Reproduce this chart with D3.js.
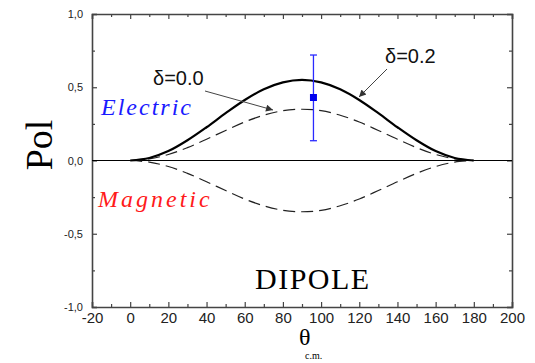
<!DOCTYPE html>
<html><head><meta charset="utf-8">
<script src="https://cdn.jsdelivr.net/npm/d3@7"></script>
<style>body{margin:0;background:#fff}svg{display:block}</style>
</head><body>
<script>
// Data
const theta = [0,10,20,30,40,50,60,70,80,90,100,110,120,130,140,150,160,170,180];
const polDelta02 = [0,0.017,0.064,0.138,0.227,0.323,0.413,0.486,0.533,0.55,0.533,0.486,0.413,0.323,0.227,0.138,0.064,0.017,0];
const polElectric = [0,0.011,0.041,0.088,0.145,0.205,0.263,0.309,0.340,0.35,0.340,0.309,0.263,0.205,0.145,0.088,0.041,0.011,0];
const polMagnetic = [0,-0.011,-0.041,-0.088,-0.145,-0.205,-0.263,-0.309,-0.340,-0.35,-0.340,-0.309,-0.263,-0.205,-0.145,-0.088,-0.041,-0.011,0];
const expPoint = [{theta:96, pol:0.43, lo:0.135, hi:0.72}];
const xTicks = [-20,0,20,40,60,80,100,120,140,160,180,200];
const xMinor = [-10,10,30,50,70,90,110,130,150,170,190];
const yTicks = [-1,-0.5,0,0.5,1];
const yMinor = [-0.75,-0.25,0.25,0.75];

const SERIF="Liberation Serif";
const SANS="Liberation Sans";

const W=535,H=363;
const svg=d3.select("body").append("svg").attr("width",W).attr("height",H);
const x=d3.scaleLinear().domain([-20,200]).range([92,512]);
const y=d3.scaleLinear().domain([-1,1]).range([307,14]);
const axisColor="#444";

const fmtY=d=>d3.format(".1f")(d).replace(".",",").replace("−","-");
const fmtX=d=>String(d);

function styleAxis(g){g.select(".domain").attr("stroke",axisColor).attr("stroke-width",1.6);
 g.selectAll(".tick line").attr("stroke",axisColor).attr("stroke-width",1.2);}

// bottom
svg.append("g").attr("transform",`translate(0,${y(-1)})`)
 .call(d3.axisBottom(x).tickValues(xTicks).tickSize(-5).tickPadding(5).tickFormat(fmtX))
 .call(styleAxis).call(g=>g.selectAll("text").attr("font-family",SANS).attr("font-size",15).attr("fill","#222"));
svg.append("g").attr("transform",`translate(0,${y(-1)})`)
 .call(d3.axisBottom(x).tickValues(xMinor).tickSize(-3).tickFormat(""))
 .call(styleAxis).call(g=>g.select(".domain").remove());
// top
svg.append("g").attr("transform",`translate(0,${y(1)})`)
 .call(d3.axisTop(x).tickValues(xTicks).tickSize(-5).tickFormat(""))
 .call(styleAxis);
svg.append("g").attr("transform",`translate(0,${y(1)})`)
 .call(d3.axisTop(x).tickValues(xMinor).tickSize(-3).tickFormat(""))
 .call(styleAxis).call(g=>g.select(".domain").remove());
// left
svg.append("g").attr("transform",`translate(${x(-20)},0)`)
 .call(d3.axisLeft(y).tickValues(yTicks).tickSize(-5).tickPadding(9).tickFormat(fmtY))
 .call(styleAxis).call(g=>g.selectAll("text").attr("font-family",SANS).attr("font-size",11).attr("fill","#222"));
svg.append("g").attr("transform",`translate(${x(-20)},0)`)
 .call(d3.axisLeft(y).tickValues(yMinor).tickSize(-3).tickFormat(""))
 .call(styleAxis).call(g=>g.select(".domain").remove());
// right
svg.append("g").attr("transform",`translate(${x(200)},0)`)
 .call(d3.axisRight(y).tickValues(yTicks).tickSize(-5).tickFormat(""))
 .call(styleAxis);
svg.append("g").attr("transform",`translate(${x(200)},0)`)
 .call(d3.axisRight(y).tickValues(yMinor).tickSize(-3).tickFormat(""))
 .call(styleAxis).call(g=>g.select(".domain").remove());

// zero line
svg.append("line").attr("x1",x(-20)).attr("x2",x(200)).attr("y1",y(0)).attr("y2",y(0))
 .attr("stroke","#000").attr("stroke-width",1.2);

const line=vals=>d3.line().x((d,i)=>x(theta[i])).y(d=>y(d)).curve(d3.curveCatmullRom)(vals);
svg.append("path").attr("d",line(polElectric)).attr("fill","none").attr("stroke","#222").attr("stroke-width",1.2).attr("stroke-dasharray","12,6");
svg.append("path").attr("d",line(polMagnetic)).attr("fill","none").attr("stroke","#222").attr("stroke-width",1.2).attr("stroke-dasharray","12,6");
svg.append("path").attr("d",line(polDelta02)).attr("fill","none").attr("stroke","#000").attr("stroke-width",2.2);

// experimental point
const blue="#2a2aff";
expPoint.forEach(p=>{
 svg.append("line").attr("x1",x(p.theta)).attr("x2",x(p.theta)).attr("y1",y(p.lo)).attr("y2",y(p.hi)).attr("stroke",blue).attr("stroke-width",1.3);
 [p.lo,p.hi].forEach(v=>svg.append("line").attr("x1",x(p.theta)-3.5).attr("x2",x(p.theta)+3.5).attr("y1",y(v)).attr("y2",y(v)).attr("stroke",blue).attr("stroke-width",1.3));
 svg.append("rect").attr("x",x(p.theta)-3.5).attr("y",y(p.pol)-3.5).attr("width",7).attr("height",7).attr("fill","#0000ee");
});

// arrows
const defs=svg.append("defs");
defs.append("marker").attr("id","ah").attr("viewBox","0 0 10 10").attr("refX",10).attr("refY",5)
 .attr("markerWidth",9).attr("markerHeight",7).attr("markerUnits","userSpaceOnUse").attr("orient","auto")
 .append("path").attr("d","M0,0L10,5L0,10z").attr("fill","#333");
svg.append("line").attr("x1",205).attr("y1",91).attr("x2",273).attr("y2",110).attr("stroke","#444").attr("stroke-width",1).attr("marker-end","url(#ah)");
svg.append("line").attr("x1",387).attr("y1",69).attr("x2",359).attr("y2",97).attr("stroke","#444").attr("stroke-width",1).attr("marker-end","url(#ah)");

// texts
const t=(fam,xx,yy,size,txt)=>svg.append("text").attr("x",xx).attr("y",yy).attr("font-family",fam).attr("font-size",size).text(txt);
t(SANS,153,85,20,"δ=0.0").attr("fill","#111");
t(SANS,385,63,20,"δ=0.2").attr("fill","#111");
t(SERIF,101,115,24,"Electric").attr("font-style","italic").attr("letter-spacing",2).attr("fill","#1a1aff");
t(SERIF,98,207,24,"Magnetic").attr("font-style","italic").attr("letter-spacing",3).attr("fill","#ff1a1a");
t(SERIF,255,289,30,"DIPOLE").attr("letter-spacing",1.5).attr("fill","#000");
svg.append("text").attr("transform","translate(52,145) rotate(-90)").attr("text-anchor","middle").attr("font-family",SERIF).attr("font-size",38).attr("fill","#000").text("Pol");
t(SERIF,299,345,24,"θ").attr("fill","#000");
t(SERIF,305,359,10,"c.m.").attr("fill","#000");
</script>
</body></html>
